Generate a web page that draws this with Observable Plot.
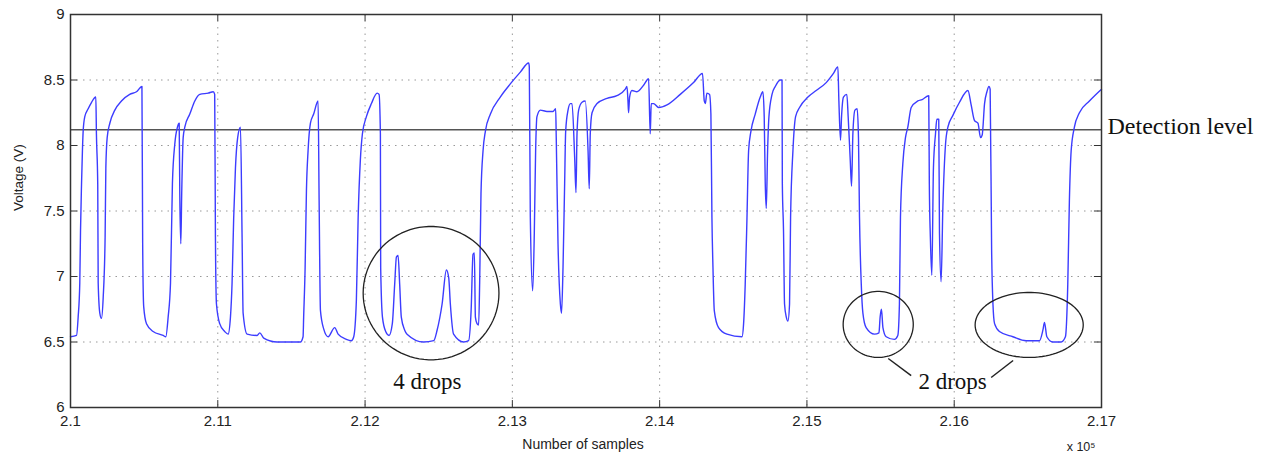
<!DOCTYPE html>
<html>
<head>
<meta charset="utf-8">
<script src="https://cdn.jsdelivr.net/npm/d3@7"></script>
<script src="https://cdn.jsdelivr.net/npm/@observablehq/plot@0.6"></script>
<style>
  html, body { margin: 0; padding: 0; background: #fff; }
</style>
</head>
<body>
<div id="chart"></div>
<script>
// ---- Data ----
const samples = [
  210000,210041,210052,210063,210068,210075,210081,210086,210097,210120,210143,210172,
  210176,210185,210188,210199,210210,210222,210235,210240,210249,210267,210301,210346,
  210402,210448,210485,210490,210497,210516,210561,210629,210647,210663,210679,210692,
  210708,210726,210738,210742,210749,210755,210765,210776,210810,210844,210878,210935,
  210969,210979,210984,210991,211013,211047,211070,211086,211097,211108,211120,211135,
  211154,211165,211172,211199,211267,211285,211312,211403,211561,211579,211583,211593,
  211602,211613,211629,211651,211681,211688,211697,211719,211749,211794,211817,211873,
  211907,211923,211941,211953,211968,211982,212009,212043,212082,212095,212104,212106,
  212118,212140,212163,212185,212201,212213,212224,212235,212246,212269,212285,212398,
  212466,212489,212523,212552,212568,212579,212601,212669,212703,212720,212733,212742,
  212749,212760,212771,212778,212787,212801,212817,212851,212918,212986,213054,213111,
  213115,213122,213138,213149,213158,213167,213190,213235,213276,213294,213298,213310,
  213326,213334,213344,213355,213362,213378,213394,213405,213423,213432,213439,213450,
  213473,213495,213514,213522,213529,213541,213575,213643,213710,213767,213778,213785,
  213789,213796,213812,213846,213891,213925,213936,213943,213959,213993,214050,214140,
  214230,214291,214303,214310,214321,214339,214348,214355,214362,214371,214400,214457,
  214559,214570,214581,214593,214604,214620,214649,214683,214701,214710,214717,214724,
  214733,214742,214763,214785,214819,214831,214833,214841,214848,214860,214871,214882,
  214889,214905,214923,214950,215007,215063,215131,215180,215210,215217,215228,215235,
  215248,215271,215280,215294,215303,215312,215326,215341,215350,215357,215369,215380,
  215402,215459,215489,215497,215506,215516,215538,215594,215617,215628,215635,215651,
  215669,215685,215708,215753,215782,215827,215831,215838,215848,215859,215873,215882,
  215895,215900,215911,215923,215941,215957,215991,216036,216093,216115,216138,216161,
  216179,216190,216206,216222,216236,216244,216254,216263,216274,216307,216398,216488,
  216579,216602,216613,216629,216669,216726,216755,216771,216782,216794,216816,216850,
  216918,217000
];
const volts = [
  6.54,6.55,6.69,6.95,7.35,7.71,7.96,8.11,8.22,8.28,8.33,8.37,
  8.09,7.70,6.95,6.72,6.68,6.84,7.30,7.83,8.06,8.17,8.27,8.34,
  8.39,8.41,8.45,7.25,6.77,6.64,6.58,6.55,6.54,6.69,6.95,7.71,
  8.01,8.14,8.17,7.63,7.25,7.63,8.06,8.14,8.24,8.34,8.39,8.40,
  8.41,8.39,7.30,6.79,6.64,6.58,6.56,6.69,6.95,7.45,7.83,8.06,
  8.14,7.30,6.72,6.56,6.55,6.57,6.53,6.50,6.50,6.54,6.69,7.07,
  7.66,7.96,8.17,8.24,8.34,7.58,6.74,6.60,6.54,6.61,6.56,6.52,
  6.51,6.54,6.82,7.45,7.89,8.09,8.22,8.32,8.40,8.39,8.09,7.07,
  6.69,6.58,6.55,6.64,6.94,7.15,7.16,6.94,6.69,6.59,6.56,6.50,
  6.51,6.59,6.79,7.05,6.99,6.79,6.56,6.50,6.51,6.74,7.17,7.18,
  6.69,6.64,6.63,6.95,7.63,7.96,8.11,8.24,8.37,8.47,8.56,8.63,
  8.60,7.45,6.89,7.33,7.96,8.22,8.27,8.26,8.26,8.28,8.06,7.25,
  6.79,6.72,7.07,7.71,8.11,8.27,8.32,8.32,7.91,7.64,8.09,8.27,
  8.33,8.34,7.96,7.67,8.09,8.25,8.32,8.36,8.38,8.43,8.45,8.34,
  8.25,8.37,8.42,8.41,8.46,8.51,8.09,8.32,8.32,8.29,8.31,8.39,
  8.48,8.55,8.34,8.32,8.40,8.39,8.24,7.45,7.07,6.74,6.61,6.56,
  6.54,6.64,6.94,7.45,7.96,8.11,8.24,8.37,8.41,8.22,7.71,7.52,
  7.96,8.22,8.39,8.45,8.50,8.50,7.71,7.35,6.79,6.69,6.66,6.79,
  7.45,7.96,8.22,8.29,8.37,8.42,8.48,8.55,8.60,8.34,8.04,8.22,
  8.37,8.39,8.22,7.89,7.69,8.09,8.27,8.28,8.06,7.45,6.94,6.72,
  6.61,6.56,6.57,6.69,6.75,6.61,6.54,6.52,6.55,6.79,7.45,7.86,
  8.06,8.14,8.29,8.34,8.35,8.38,7.71,7.30,7.01,7.83,8.09,8.20,
  8.20,7.33,6.96,7.53,8.01,8.14,8.23,8.33,8.42,8.31,8.19,8.17,
  8.06,8.08,8.32,8.41,8.45,8.43,7.20,6.79,6.64,6.58,6.54,6.51,
  6.51,6.59,6.65,6.54,6.50,6.50,6.54,6.94,7.58,7.96,8.14,8.25,
  8.34,8.43
];

const xTicks = [210000,211000,212000,213000,214000,215000,216000,217000];
const xTickLabels = ["2.1","2.11","2.12","2.13","2.14","2.15","2.16","2.17"];
const yTicks = [6,6.5,7,7.5,8,8.5,9];
const yTickLabels = ["6","6.5","7","7.5","8","8.5","9"];

const detectionLevel = 8.12;
const detectionLabel = "Detection level";

// annotations: ellipses (centre in samples / volts, radii in samples / volts)
const ellipseCx = [212448, 215484, 216509];
const ellipseCy = [6.873, 6.634, 6.630];
const ellipseRx = [461, 238, 367];
const ellipseRy = [0.509, 0.252, 0.248];

const dropLabels = ["4 drops", "2 drops"];
const dropLabelX = [212423, 215989];
const dropLabelY = [6.20, 6.20];

const leaderX1 = [215552, 216400];
const leaderY1 = [6.374, 6.359];
const leaderX2 = [215708, 216251];
const leaderY2 = [6.244, 6.229];

// ---- Build tables ----
const trace = samples.map((s, i) => ({s, v: volts[i]}));
const ellipsePts = [];
ellipseCx.forEach((cx, k) => {
  for (let j = 0; j <= 90; j++) {
    const t = (j / 90) * 2 * Math.PI;
    ellipsePts.push({k, x: cx + ellipseRx[k] * Math.cos(t), y: ellipseCy[k] + ellipseRy[k] * Math.sin(t)});
  }
});
const leaders = leaderX1.map((x1, i) => ({x1, y1: leaderY1[i], x2: leaderX2[i], y2: leaderY2[i]}));
const dropTexts = dropLabels.map((t, i) => ({t, x: dropLabelX[i], y: dropLabelY[i]}));
const xLabelMap = new Map(xTicks.map((d, i) => [d, xTickLabels[i]]));
const yLabelMap = new Map(yTicks.map((d, i) => [d, yTickLabels[i]]));

const serif = "'Liberation Serif', 'Times New Roman', serif";

const chart = Plot.plot({
  width: 1263,
  height: 459,
  marginLeft: 70,
  marginRight: 162,
  marginTop: 14,
  marginBottom: 52,
  x: {domain: [210000, 217000]},
  y: {domain: [6, 9]},
  style: {fontFamily: "'Liberation Sans', Arial, sans-serif", background: "#fff", overflow: "visible"},
  marks: [
    Plot.gridX(xTicks.slice(1, -1), {stroke: "#999", strokeOpacity: 1, strokeDasharray: "1.5,5"}),
    Plot.gridY(yTicks.slice(1, -1), {stroke: "#999", strokeOpacity: 1, strokeDasharray: "1.5,5"}),
    Plot.ruleY([detectionLevel], {stroke: "#555", strokeWidth: 1.4}),
    Plot.line(trace, {x: "s", y: "v", stroke: "#3c3cff", strokeWidth: 1.4, curve: "monotone-x"}),
    Plot.line(ellipsePts, {x: "x", y: "y", z: "k", stroke: "#222", strokeWidth: 1.3, curve: "linear"}),
    Plot.link(leaders, {x1: "x1", y1: "y1", x2: "x2", y2: "y2", stroke: "#222", strokeWidth: 1.5}),
    Plot.text(dropTexts, {x: "x", y: "y", text: "t", fontFamily: serif, fontSize: 23, fill: "#111", textAnchor: "middle", lineAnchor: "middle"}),
    Plot.text([detectionLabel], {x: 217000, y: 8.15, dx: 6, textAnchor: "start", lineAnchor: "middle", fontFamily: serif, fontSize: 24, fill: "#111"}),
    // inward tick marks (MATLAB style) on all four sides
    Plot.ruleX(xTicks, {y1: 6, y2: 6.053, stroke: "#333", strokeWidth: 1}),
    Plot.ruleX(xTicks, {y1: 8.947, y2: 9, stroke: "#333", strokeWidth: 1}),
    Plot.ruleY(yTicks, {x1: 210000, x2: 210048, stroke: "#333", strokeWidth: 1}),
    Plot.ruleY(yTicks, {x1: 216952, x2: 217000, stroke: "#333", strokeWidth: 1}),
    Plot.axisX(xTicks, {anchor: "bottom", tickSize: 0, tickPadding: 8, fontSize: 15, fill: "#222", tickFormat: d => xLabelMap.get(d), label: null}),
    Plot.axisY(yTicks, {anchor: "left", tickSize: 0, tickPadding: 6, fontSize: 15, fill: "#222", tickFormat: d => yLabelMap.get(d), label: null}),
    Plot.text(["Voltage (V)"], {frameAnchor: "left", rotate: -90, dx: -52, fontSize: 13.5, fill: "#222"}),
    Plot.text(["Number of samples"], {frameAnchor: "bottom", dy: 41, dx: -3, fontSize: 14, fill: "#222"}),
    Plot.text(["x 10\u2075"], {frameAnchor: "bottom-right", dy: 43, dx: -6, textAnchor: "end", fontSize: 12.5, fill: "#222"}),
    Plot.frame({stroke: "#333", strokeWidth: 1.5})
  ]
});
document.getElementById("chart").appendChild(chart);
</script>
</body>
</html>
